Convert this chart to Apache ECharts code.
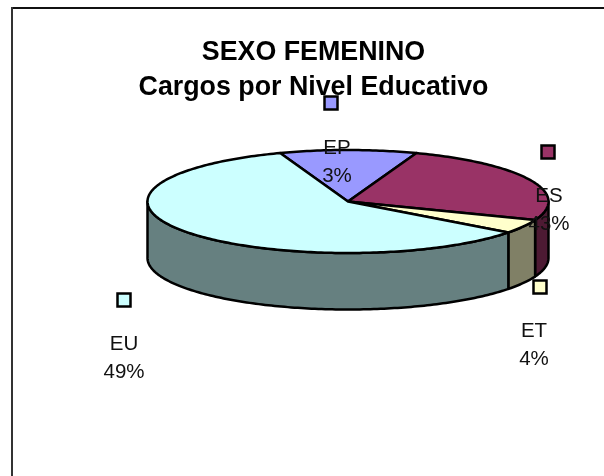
<!DOCTYPE html>
<html><head><meta charset="utf-8">
<style>html,body{margin:0;padding:0;background:#fff}#c{width:604px;height:476px}</style>
<script src="https://cdn.jsdelivr.net/npm/echarts@6/dist/echarts.min.js"></script>
</head><body><div id="c"></div>
<script>
// Data: drawn slice shares and the printed labels
var categories = ['EP', 'ES', 'ET', 'EU'];
var sliceShares = [11.05, 25.3, 4.4, 59.25];
var percentLabels = ['3%', '43%', '4%', '49%'];
var titleLines = ['SEXO FEMENINO', 'Cargos por Nivel Educativo'];
var topColors = ['#9999FF', '#993366', '#FFFFCC', '#CCFFFF'];
var wallColors = ['#6B6BB3', '#4D1A33', '#808066', '#668080'];

// Layout of the flattened pie
var cx = 348, cy = 201.5, rx = 200.5, ry = 51.5, depth = 56.5, startDeg = -19.8;
// Label layout: marker square and text centre for each category
var markerPos = [[331, 103], [548, 152], [540, 287], [124, 300]];
var labelPos = [[337, 148], [549, 196], [534, 331], [124, 344]];
var lineGap = 28.5;

var total = sliceShares.reduce(function (a, b) { return a + b; }, 0);
function pt(deg, dy) {
  var r = deg * Math.PI / 180;
  return [cx + rx * Math.sin(r), cy - ry * Math.cos(r) + (dy || 0)];
}
function arc(from, to, dy) {
  var out = [], n = Math.max(2, Math.ceil(Math.abs(to - from)));
  for (var i = 0; i <= n; i++) out.push(pt(from + (to - from) * i / n, dy));
  return out;
}
var lineStyle = { stroke: '#000', lineWidth: 2.5, lineJoin: 'round' };
function renderSlice(params, api) {
  var i = params.dataIndex, before = 0;
  for (var k = 0; k < i; k++) before += sliceShares[k];
  var a0 = startDeg + before / total * 360;
  var a1 = a0 + api.value(1) / total * 360;
  var children = [];
  // front wall: the part of the rim between 90 and 270 degrees
  var w0 = Math.max(a0, 90), w1 = Math.min(a1, 270);
  if (w1 > w0) {
    var wall = arc(w0, w1, 0).concat(arc(w1, w0, depth));
    children.push({ type: 'polygon', shape: { points: wall },
      style: Object.assign({ fill: wallColors[i] }, lineStyle) });
  }
  var top = [[cx, cy]].concat(arc(a0, a1, 0));
  children.push({ type: 'polygon', shape: { points: top },
    style: Object.assign({ fill: topColors[i] }, lineStyle) });
  return { type: 'group', children: children };
}
function renderLabel(params, api) {
  var i = params.dataIndex, m = markerPos[i], l = labelPos[i];
  var font = '20.5px "Liberation Sans", Arial, sans-serif';
  return { type: 'group', children: [
    { type: 'rect', shape: { x: m[0] - 6.5, y: m[1] - 6.5, width: 13, height: 13 },
      style: { fill: topColors[i], stroke: '#000', lineWidth: 2.5 } },
    { type: 'text', style: { x: l[0], y: l[1], text: categories[i], fill: '#111',
      font: font, align: 'center', verticalAlign: 'middle' } },
    { type: 'text', style: { x: l[0], y: l[1] + lineGap, text: percentLabels[i], fill: '#111',
      font: font, align: 'center', verticalAlign: 'middle' } }
  ] };
}
var seriesData = categories.map(function (c, i) { return [i, sliceShares[i]]; });
var chart = echarts.init(document.getElementById('c'), null, { renderer: 'canvas' });
chart.setOption({
  animation: false,
  backgroundColor: '#fff',
  title: {
    text: titleLines.join('\n'), left: 308.5, top: 30, textAlign: 'center',
    textStyle: { fontFamily: '"Liberation Sans", Arial, sans-serif', fontWeight: 'bold', fontSize: 26.8, lineHeight: 35, color: '#000' }
  },
  graphic: [
    { type: 'line', silent: true, z: -1, shape: { x1: 12, y1: 8, x2: 604, y2: 8 }, style: { stroke: '#111', lineWidth: 2 } },
    { type: 'line', silent: true, z: -1, shape: { x1: 12, y1: 7, x2: 12, y2: 476 }, style: { stroke: '#333', lineWidth: 2 } }
  ],
  series: [
    { type: 'custom', coordinateSystem: 'none', renderItem: renderSlice, data: seriesData, z: 2, silent: true },
    { type: 'custom', coordinateSystem: 'none', renderItem: renderLabel, data: seriesData, z: 3, silent: true }
  ]
});
</script></body></html>
